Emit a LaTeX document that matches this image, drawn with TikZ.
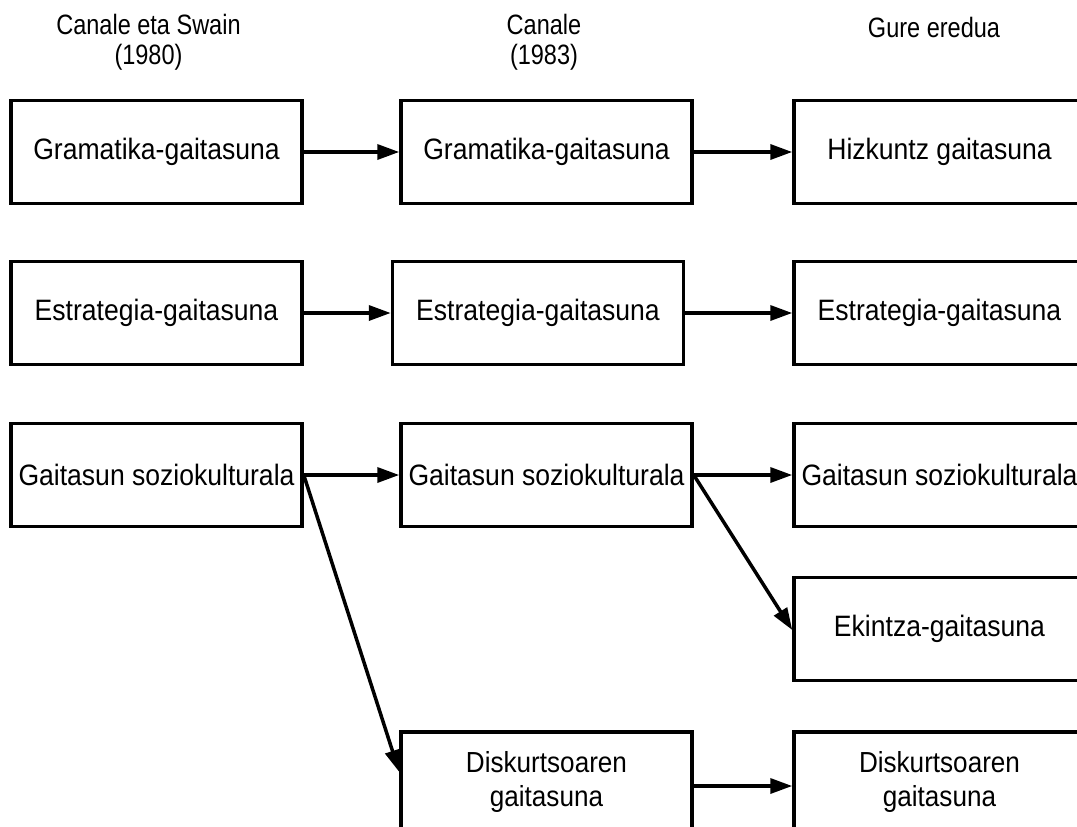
\documentclass[tikz,border=0pt]{standalone}
\usepackage{fontspec}
\setmainfont{Liberation Sans}
\newfontfamily\boxfont[FakeStretch=0.9]{Liberation Sans}
\newfontfamily\headfont[FakeStretch=0.84]{Liberation Sans}
\newfontfamily\discfont[FakeStretch=0.9]{Liberation Sans}
\usetikzlibrary{arrows.meta}
\tikzset{
  x=1pt, y=-1pt,
  box/.style={draw, line width=3.5pt, minimum width=291pt, minimum height=103pt,
    inner sep=0pt, font=\boxfont\fontsize{29.5}{32}\selectfont},
  dbox/.style={box, minimum height=100pt, align=center,
    font=\discfont\fontsize{29}{34}\selectfont},
  head/.style={align=center, font=\headfont\fontsize{28}{30}\selectfont},
  link/.style={line width=3.5pt, -{Triangle[length=22pt,width=15pt]}},
}
\begin{document}
\begin{tikzpicture}
\useasboundingbox (0,0) rectangle (1077,827);
\clip (0,0) rectangle (1077,827);
% column headings
\node[head] (h1) at (148.5,42) {Canale eta Swain\\(1980)};
\node[head] (h2) at (544,42) {Canale\\(1983)};
\node[head] (h3) at (934,27) {Gure eredua};
% row 1
\node[box] (a1) at (156.5,152) {Gramatika-gaitasuna};
\node[box] (a2) at (546.5,152) {Gramatika-gaitasuna};
\node[box] (a3) at (939.5,152) {Hizkuntz gaitasuna};
% row 2
\node[box] (b1) at (156.5,313) {Estrategia-gaitasuna};
\node[box] (b2) at (538,313) {Estrategia-gaitasuna};
\node[box] (b3) at (939.5,313) {Estrategia-gaitasuna};
% row 3
\node[box] (c1) at (156.5,475) {Gaitasun soziokulturala};
\node[box] (c2) at (546.5,475) {Gaitasun soziokulturala};
\node[box] (c3) at (939.5,475) {Gaitasun soziokulturala};
% action competence
\node[box] (e3) at (939.5,629) {Ekintza-gaitasuna};
% discourse competence (lower edge runs off the page)
\node[dbox, anchor=north] (d2) at (546.5,730) {Diskurtsoaren\\gaitasuna};
\node[dbox, anchor=north] (d3) at (939.5,730) {Diskurtsoaren\\gaitasuna};
\draw[line width=3.5pt] (d2.south west) -- ++(0,20) (d2.south east) -- ++(0,20);
\draw[line width=3.5pt] (d3.south west) -- ++(0,20);
% connectors
\draw[link] (a1.east) -- (a2.west);
\draw[link] (a2.east) -- (a3.west);
\draw[link] (b1.east) -- (b2.west);
\draw[link] (b2.east) -- (b3.west);
\draw[link] (c1.east) -- (c2.west);
\draw[link] (c2.east) -- (c3.west);
\draw[link] (c1.east) -- (d2.west |- 0,772);
\draw[link] (c2.east) -- (e3.west |- 0,630);
\draw[link] (d2.east |- 0,786) -- (d3.west |- 0,786);
\end{tikzpicture}
\end{document}
